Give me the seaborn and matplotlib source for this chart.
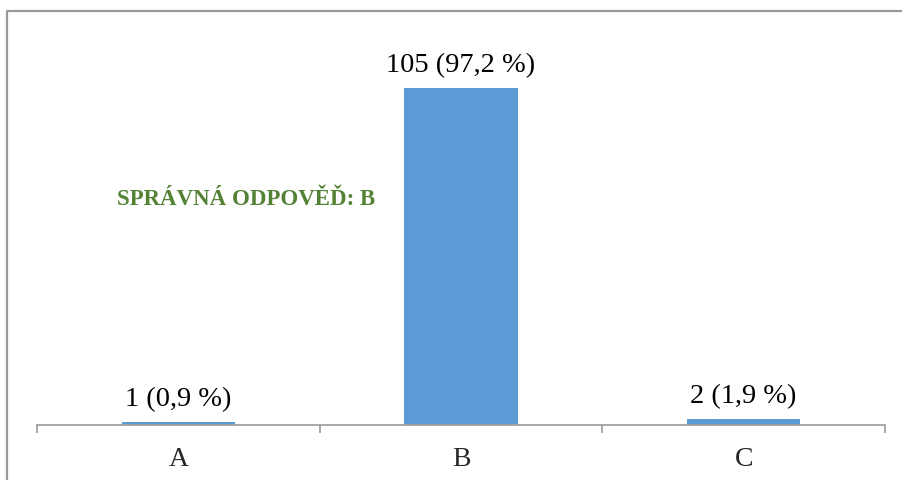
import matplotlib
matplotlib.use("Agg")
import matplotlib.pyplot as plt
import seaborn as sns
from matplotlib.lines import Line2D

# data
answers = ["A", "B", "C"]
counts = [1, 105, 2]
percents = [0.9, 97.2, 1.9]
note = "SPRÁVNÁ ODPOVĚĎ: B"

sns.set_style("white")
plt.rcParams["font.family"] = ["Liberation Serif", "DejaVu Serif"]

fig = plt.figure(figsize=(9.02, 4.8), dpi=100)
ax = fig.add_axes([37 / 902, 1 - 425 / 480, (885 - 37) / 902, (425 - 40) / 480])

sns.barplot(x=answers, y=counts, color="#5b9bd5", width=0.4, saturation=1,
            linewidth=0, edgecolor="none", ax=ax)

labels = [f"{c} ({p:.1f} %)".replace(".", ",") for c, p in zip(counts, percents)]
ax.bar_label(ax.containers[0], labels=labels, padding=7, fontsize=20.5, color="black")

ax.set_xlim(-0.5, 2.5)
ax.set_ylim(0, 120)
ax.set_yticks([])
ax.set_xlabel("")
ax.set_ylabel("")
for s in ["top", "right", "left"]:
    ax.spines[s].set_visible(False)
ax.spines["bottom"].set_color("#a0a0a0")
ax.spines["bottom"].set_linewidth(1.3)

# category boundary ticks
ax.set_xticks([-0.5, 0.5, 1.5, 2.5], minor=True)
ax.tick_params(axis="x", which="minor", bottom=True, length=6, width=1.3, color="#a0a0a0")
ax.tick_params(axis="x", which="major", bottom=False, labelsize=20, pad=12)

ax.text(0.246, 0.587, note, transform=ax.transAxes, ha="center", va="center",
        fontsize=16.5, fontweight="bold", color="#548235")

# outer frame: only left and top edges are inside the image
x0, y0 = 7 / 902, 1 - 11 / 480
fig.lines.append(Line2D([x0, x0, 1.0], [0.0, y0, y0], transform=fig.transFigure,
                        color="#999999", linewidth=1.6))

fig.savefig("out.png", dpi=100)
